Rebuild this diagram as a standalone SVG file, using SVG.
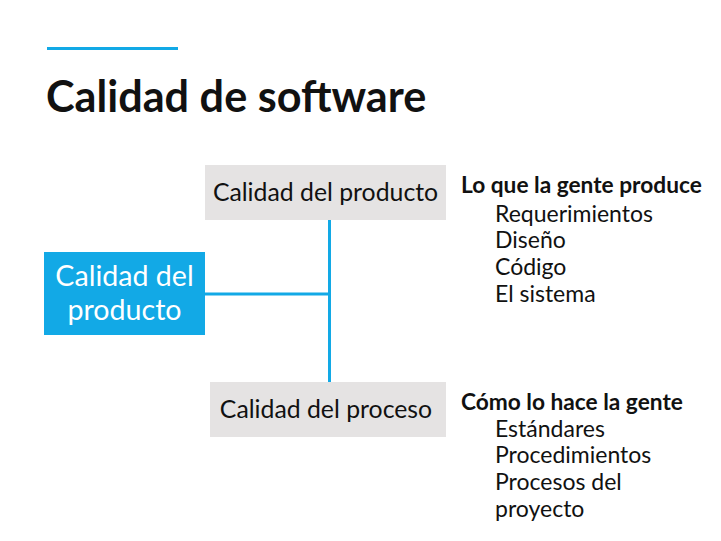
<svg xmlns="http://www.w3.org/2000/svg" width="721" height="541" viewBox="0 0 721 541">
<style>
text{font-family:Lato,"Open Sans","Liberation Sans",sans-serif;fill:#111;}
.box{fill:#e5e3e3;}
.blue{fill:#12a9e6;}
.lbl{font-size:24.8px;}
.head{font-size:22.7px;font-weight:bold;}
.item{font-size:23px;}
.conn{stroke:#12a9e6;stroke-width:3;fill:none;}
</style>
<rect x="0" y="0" width="721" height="541" fill="#ffffff"/>
<line x1="47" y1="48.5" x2="178" y2="48.5" stroke="#12a9e6" stroke-width="3"/>
<text x="46" y="112" font-size="43.2" font-weight="bold">Calidad de software</text>
<g id="connectors">
<line class="conn" x1="329.5" y1="220" x2="329.5" y2="382"/>
<line class="conn" x1="205" y1="294" x2="329.5" y2="294"/>
</g>
<g id="node-producto-main">
<rect class="blue" x="44" y="252" width="161" height="83"/>
<text x="124.5" y="286" font-size="28.6" text-anchor="middle" style="fill:#fff">Calidad del</text>
<text x="124.5" y="320" font-size="28.6" text-anchor="middle" style="fill:#fff">producto</text>
</g>
<g id="node-producto">
<rect class="box" x="205" y="165" width="241" height="55"/>
<text class="lbl" x="325.5" y="201" text-anchor="middle">Calidad del producto</text>
</g>
<g id="node-proceso">
<rect class="box" x="210" y="382" width="236" height="55"/>
<text class="lbl" x="326" y="418" text-anchor="middle">Calidad del proceso</text>
</g>
<g id="desc-producto">
<text class="head" x="461" y="193">Lo que la gente produce</text>
<text class="item" x="495" y="221.5">Requerimientos</text>
<text class="item" x="495" y="248">Diseño</text>
<text class="item" x="495" y="275">Código</text>
<text class="item" x="495" y="301.5">El sistema</text>
</g>
<g id="desc-proceso">
<text class="head" x="461" y="409.5">Cómo lo hace la gente</text>
<text class="item" x="495" y="436.5">Estándares</text>
<text class="item" x="495" y="463">Procedimientos</text>
<text class="item" x="495" y="490">Procesos del</text>
<text class="item" x="495" y="516.5">proyecto</text>
</g>
</svg>
